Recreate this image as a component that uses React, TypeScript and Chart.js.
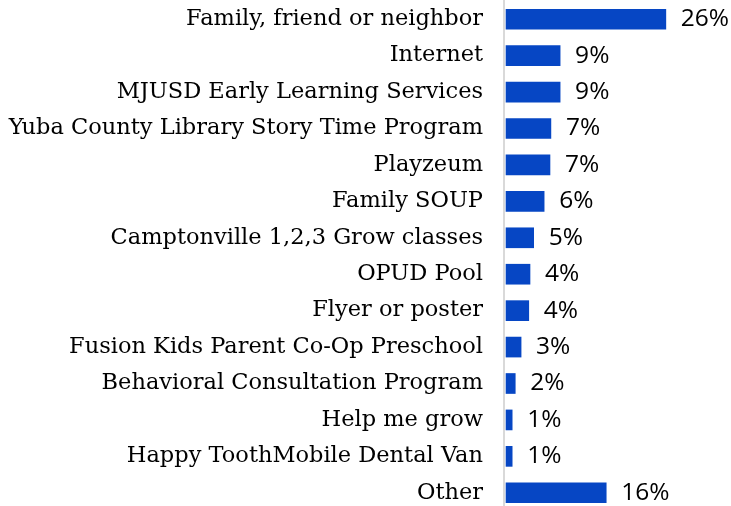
import React, { useEffect, useRef } from "react";
import { Chart, registerables } from "chart.js";

Chart.register(...registerables);

const categories = [
  "Family, friend or neighbor",
  "Internet",
  "MJUSD Early Learning Services",
  "Yuba County Library Story Time Program",
  "Playzeum",
  "Family SOUP",
  "Camptonville 1,2,3 Grow classes",
  "OPUD Pool",
  "Flyer or poster",
  "Fusion Kids Parent Co-Op Preschool",
  "Behavioral Consultation Program",
  "Help me grow",
  "Happy ToothMobile Dental Van",
  "Other",
];

const values = [26.0, 8.8, 8.8, 7.3, 7.15, 6.2, 4.5, 3.9, 3.7, 2.45, 1.5, 1.0, 1.0, 16.3];

const valueLabels = ["26%", "9%", "9%", "7%", "7%", "6%", "5%", "4%", "4%", "3%", "2%", "1%", "1%", "16%"];

const LABEL_FONT = "'DejaVu Serif', serif";
const VALUE_FONT = "'Open Sans', 'Noto Sans', sans-serif";

const valueLabelPlugin = {
  id: "valueLabels",
  afterDatasetsDraw(chart: any) {
    const ctx = chart.ctx;
    const meta = chart.getDatasetMeta(0);
    ctx.save();
    ctx.font = `24.5px ${VALUE_FONT}`;
    ctx.fillStyle = "#000000";
    ctx.textAlign = "left";
    ctx.textBaseline = "middle";
    meta.data.forEach((el: any, i: number) => {
      ctx.fillText(valueLabels[i], el.x + 15, el.y);
    });
    ctx.restore();
  },
};

export default function App() {
  const ref = useRef<HTMLCanvasElement | null>(null);

  useEffect(() => {
    document.body.style.margin = "0";
    document.body.style.overflow = "hidden";
    const canvas = ref.current;
    if (!canvas) return;
    const chart = new Chart(canvas, {
      type: "bar",
      data: {
        labels: categories,
        datasets: [
          {
            data: values,
            backgroundColor: "#0646C4",
            borderWidth: 0,
            barThickness: 20,
          },
        ],
      },
      options: {
        indexAxis: "y",
        responsive: false,
        animation: false,
        devicePixelRatio: 1,
        layout: { padding: { top: 1, right: 0, bottom: 0, left: 0 } },
        plugins: {
          legend: { display: false },
          tooltip: { enabled: false },
        },
        scales: {
          x: {
            display: false,
            min: -0.33,
            max: 36.6,
            grid: { display: false },
          },
          y: {
            afterFit(scale: any) {
              scale.width = 504;
              scale.paddingTop = 0;
              scale.paddingBottom = 0;
            },
            grid: { display: false, drawTicks: false },
            border: { display: true, color: "#d9d9d9", width: 2 },
            ticks: {
              padding: 21,
              color: "#000000",
              font: { family: LABEL_FONT, size: 22.5 },
            },
          },
        },
      },
      plugins: [valueLabelPlugin],
    });
    return () => chart.destroy();
  }, []);

  return (
    <div style={{ width: 731, height: 506, overflow: "hidden", position: "relative" }}>
      <canvas ref={ref} width={731} height={511} style={{ display: "block" }} />
    </div>
  );
}
